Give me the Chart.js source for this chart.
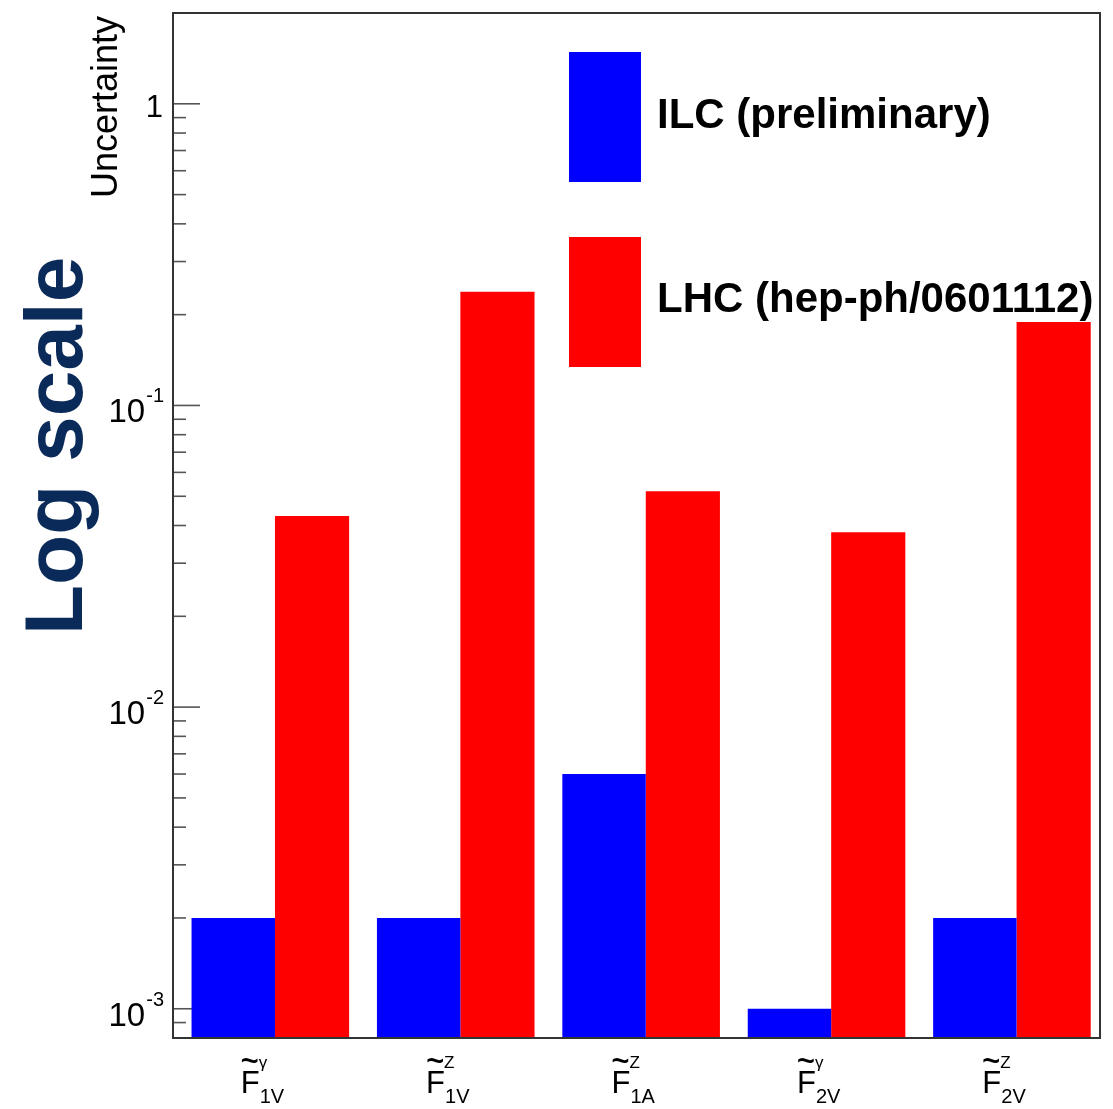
<!DOCTYPE html>
<html>
<head>
<meta charset="utf-8">
<script src="https://cdn.jsdelivr.net/npm/chart.js@4.4.1/dist/chart.umd.min.js"></script>
<style>
  html, body { margin: 0; padding: 0; background: #fff; }
  #wrap { width: 1113px; height: 1109px; }
</style>
</head>
<body>
<div id="wrap"><canvas id="myChart"></canvas></div>
<script>
// data
const labelSup = ['γ', 'Z', 'Z', 'γ', 'Z'];
const labelSub = ['1V', '1V', '1A', '2V', '2V'];
const ilcValues = [0.002, 0.002, 0.006, 0.001, 0.002];
const lhcValues = [0.043, 0.238, 0.052, 0.038, 0.189];
const seriesNames = ['ILC (preliminary)', 'LHC (hep-ph/0601112)'];
const seriesColors = ['#0000ff', '#ff0000'];
const yTickExps = [0, -1, -2, -3];

const FONT = '"Liberation Sans", Arial, Helvetica, sans-serif';

// ROOT style bars: blue sits at 0.10-0.55 of the bin, red at 0.55-0.95
const ilcPoints = ilcValues.map((v, i) => ({ x: i + 0.325, y: v }));
const lhcPoints = lhcValues.map((v, i) => ({ x: i + 0.75, y: v }));

const rootStyle = {
  id: 'rootStyle',
  beforeDatasetsDraw(chart) {
    const ctx = chart.ctx;
    const area = chart.chartArea;
    const y = chart.scales.y;
    ctx.save();
    ctx.strokeStyle = '#555';
    ctx.lineWidth = 1.6;
    for (let e = -4; e <= 0; e++) {
      for (let m = 1; m <= 9; m++) {
        const v = m * Math.pow(10, e);
        if (v < y.min * 0.999 || v > y.max * 1.001) continue;
        const py = y.getPixelForValue(v);
        const len = m === 1 ? 27 : 13;
        ctx.beginPath();
        ctx.moveTo(area.left, py);
        ctx.lineTo(area.left + len, py);
        ctx.stroke();
      }
    }
    ctx.restore();
  },
  afterDatasetsDraw(chart) {
    const ctx = chart.ctx;
    const area = chart.chartArea;
    const y = chart.scales.y;
    const xs = chart.scales.xb;
    ctx.save();

    // frame
    ctx.strokeStyle = '#333';
    ctx.lineWidth = 2;
    ctx.strokeRect(area.left, area.top, area.width, area.height);

    // y tick labels
    ctx.fillStyle = '#000';
    ctx.textBaseline = 'alphabetic';
    yTickExps.forEach(e => {
      const py = y.getPixelForValue(Math.pow(10, e));
      if (e === 0) {
        ctx.font = '31px ' + FONT;
        ctx.textAlign = 'right';
        ctx.fillText('1', 163, py + 13);
      } else {
        ctx.font = '20px ' + FONT;
        ctx.textAlign = 'right';
        const sup = '-' + (-e);
        ctx.fillText(sup, 164, py - 3);
        const w = ctx.measureText(sup).width;
        ctx.font = '33px ' + FONT;
        ctx.fillText('10', 164 - w - 1, py + 17);
      }
    });

    // x category labels
    ctx.textAlign = 'left';
    for (let i = 0; i < labelSub.length; i++) {
      const cx = xs.getPixelForValue(i + 0.5);
      const left = cx - 25;
      ctx.font = '31px ' + FONT;
      ctx.fillText('F', left, 1093);
      ctx.save();
      ctx.translate(left + 9, 1075);
      ctx.scale(1.05, 1.4);
      ctx.textAlign = 'center';
      ctx.font = '30px ' + FONT;
      ctx.fillText('~', 0, 0);
      ctx.restore();
      ctx.font = '17px ' + FONT;
      ctx.fillText(labelSup[i], left + 18, 1068);
      ctx.font = '20px ' + FONT;
      ctx.fillText(labelSub[i], left + 19, 1103);
    }

    // legend
    const boxes = [[569, 52], [569, 237]];
    const textY = [128, 312];
    chart.data.datasets.forEach((ds, k) => {
      ctx.fillStyle = ds.backgroundColor;
      ctx.fillRect(boxes[k][0], boxes[k][1], 72, 130);
      ctx.fillStyle = '#000';
      ctx.font = 'bold 42px ' + FONT;
      ctx.textAlign = 'left';
      ctx.fillText(ds.label, 657, textY[k]);
    });

    // axis title
    ctx.save();
    ctx.translate(117, 16);
    ctx.rotate(-Math.PI / 2);
    ctx.font = '36px ' + FONT;
    ctx.textAlign = 'right';
    ctx.fillStyle = '#000';
    ctx.fillText('Uncertainty', 0, 0);
    ctx.restore();

    ctx.save();
    ctx.translate(82, 635);
    ctx.rotate(-Math.PI / 2);
    ctx.font = 'bold 82px ' + FONT;
    ctx.textAlign = 'left';
    ctx.fillStyle = '#0a2a5a';
    ctx.fillText('Log scale', 0, 0);
    ctx.restore();

    ctx.restore();
  }
};

const bgPlugin = {
  id: 'bg',
  beforeDraw(chart) {
    const ctx = chart.ctx;
    ctx.save();
    ctx.fillStyle = '#fff';
    ctx.fillRect(0, 0, chart.width, chart.height);
    ctx.restore();
  }
};

const xAxis = {
  type: 'linear',
  min: 0,
  max: labelSub.length,
  offset: false,
  display: false,
  ticks: { stepSize: 1 },
  grid: { offset: false }
};

new Chart(document.getElementById('myChart'), {
  type: 'bar',
  data: {
    datasets: [{
      label: seriesNames[0],
      data: ilcPoints,
      xAxisID: 'xb',
      grouped: false,
      backgroundColor: seriesColors[0],
      borderWidth: 0,
      barPercentage: 0.45,
      categoryPercentage: 1
    }, {
      label: seriesNames[1],
      data: lhcPoints,
      xAxisID: 'xr',
      grouped: false,
      backgroundColor: seriesColors[1],
      borderWidth: 0,
      barPercentage: 0.4,
      categoryPercentage: 1
    }]
  },
  options: {
    responsive: true,
    maintainAspectRatio: false,
    animation: false,
    layout: { padding: { left: 173, top: 13, right: 13, bottom: 71 } },
    plugins: {
      legend: { display: false },
      tooltip: { enabled: false }
    },
    scales: {
      xb: Object.assign({}, xAxis),
      xr: Object.assign({}, xAxis),
      y: {
        type: 'logarithmic',
        min: 0.0008,
        max: 2,
        bounds: 'data',
        display: false
      }
    }
  },
  plugins: [bgPlugin, rootStyle]
});
</script>
</body>
</html>
